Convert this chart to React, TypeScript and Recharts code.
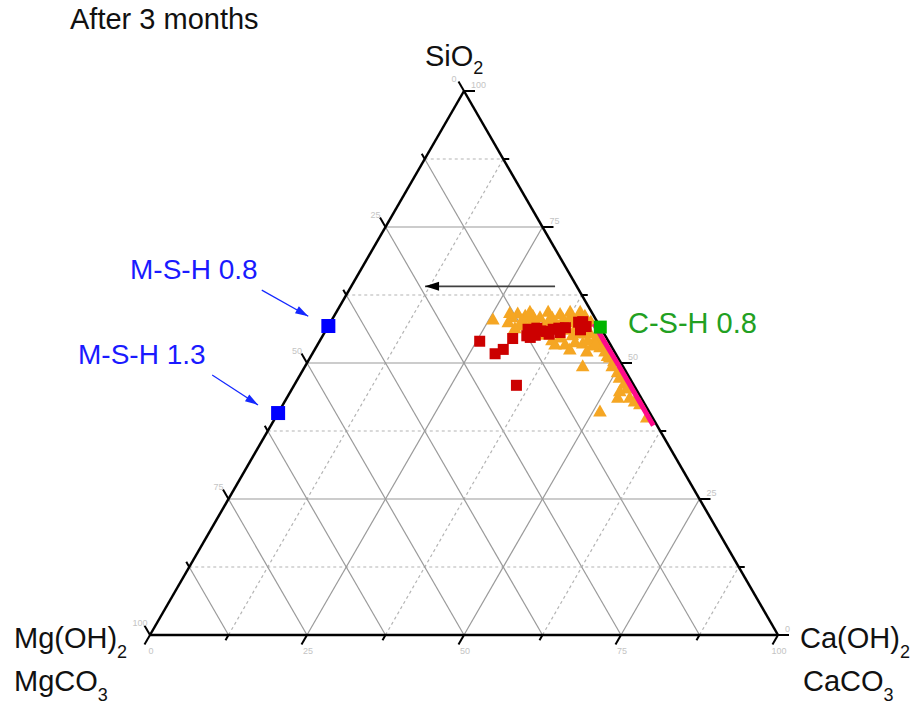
import React from 'react';
import { ReferenceLine, Scatter, ScatterChart, XAxis, YAxis } from 'recharts';

// compositions in %: [SiO2, Ca(OH)2 / CaCO3, Mg(OH)2 / MgCO3]
const mshComp = [
  [56.8, 0, 43.2],
  [40.8, 0, 59.2],
];
const cshComp = [[56.6, 43.4, 0]];
const redComp = [
  [54.0, 25.5, 20.5], [51.7, 29.1, 19.2], [52.5, 30.0, 17.5], [54.5, 30.5, 15.0],
  [45.9, 35.4, 18.7], [56.2, 32.1, 11.7], [54.7, 33.2, 12.1], [56.4, 33.4, 10.2],
  [55.8, 35.2, 9.0], [56.2, 36.1, 7.7], [56.4, 36.9, 6.7], [56.5, 37.9, 5.6],
  [57.5, 39.5, 3.0], [57.6, 40.1, 2.3], [56.7, 41.1, 2.2], [55.1, 33.8, 11.1],
  [55.6, 37.5, 6.9], [55.0, 32.5, 12.5], [55.9, 34.3, 9.8], [55.3, 35.9, 8.8],
  [56.1, 40.5, 3.4],
];
const orangeComp = [
  [58.0, 25.6, 16.4], [58.4, 28.4, 13.2], [59.1, 29.0, 11.9], [58.7, 30.4, 10.9],
  [58.7, 31.6, 9.7], [58.4, 32.9, 8.7], [57.6, 34.6, 7.8], [57.6, 35.7, 6.7],
  [58.0, 36.8, 5.2], [58.4, 37.7, 3.9], [58.4, 39.0, 2.6], [58.7, 39.9, 1.4],
  [57.6, 41.4, 1.0], [56.9, 30.5, 12.6], [55.2, 35.3, 9.5], [54.7, 38.0, 7.3],
  [55.1, 39.7, 5.2], [55.4, 40.8, 3.8], [55.4, 42.4, 2.2], [54.7, 43.7, 1.6],
  [54.0, 44.7, 1.3], [53.4, 37.8, 8.8], [53.4, 39.4, 7.2], [53.8, 40.8, 5.4],
  [53.6, 42.1, 4.3], [53.2, 43.8, 3.0], [52.9, 45.2, 1.9], [52.1, 46.4, 1.5],
  [51.0, 47.7, 1.3], [50.3, 48.7, 1.0], [49.4, 44.2, 6.4], [49.4, 48.9, 1.7],
  [48.3, 50.3, 1.4], [47.3, 51.1, 1.6], [46.2, 52.4, 1.4], [45.3, 53.3, 1.4],
  [43.6, 52.7, 3.7], [42.9, 55.7, 1.4], [43.6, 54.6, 1.8], [41.1, 51.1, 7.8],
  [40.0, 59.1, 0.9], [57.1, 32.0, 10.9], [56.5, 39.5, 4.0], [52.1, 43.5, 4.4],
  [52.5, 40.6, 6.9], [44.8, 52.4, 2.8], [42.4, 56.8, 0.8],
  [57.5, 28.3, 14.2], [56.4, 29.9, 13.7], [57.9, 30.3, 11.8], [58.3, 31.0, 10.7],
  [57.5, 32.7, 9.8], [56.8, 34.3, 8.9], [58.3, 34.9, 6.8], [56.8, 36.6, 6.6],
  [56.1, 38.2, 5.7], [57.5, 38.8, 3.7], [56.1, 40.8, 3.1], [54.2, 42.6, 3.2],
  [53.5, 44.2, 2.3], [54.2, 36.9, 8.9], [53.3, 45.8, 0.9], [51.3, 47.2, 1.5],
  [59.4, 33.7, 6.9], [59.0, 35.8, 5.2], [59.4, 38.8, 1.8], [59.2, 27.7, 13.1],
  [59.4, 30.8, 9.8], [59.4, 37.2, 3.4],
];
const pinkComp = [
  [57.2, 42.1, 0.7], [54.0, 45.3, 0.7], [50.0, 49.4, 0.6],
  [46.0, 53.4, 0.6], [42.0, 57.4, 0.6], [38.5, 60.9, 0.6],
];

// annotation arrows, in plot units (x = Ca + SiO2/2, y = SiO2)
const arrows = [
  { from: { x: 64.5, y: 64.1 }, to: { x: 43.8, y: 64.1 }, color: '#000000', shaft: '#404040' },
  { from: { x: 17.8, y: 63.4 }, to: { x: 25.2, y: 58.6 }, color: '#1428ff', shaft: '#1428ff' },
  { from: { x: 9.9, y: 47.8 }, to: { x: 17.2, y: 42.3 }, color: '#1428ff', shaft: '#1428ff' },
];

const gridValues = [12.5, 25, 37.5, 50, 62.5, 75, 87.5];
const majorValues = [25, 50, 75];
const tickValues = [0, 12.5, 25, 37.5, 50, 62.5, 75, 87.5, 100];
const labelValues = [0, 25, 50, 75, 100];

const W = 917;
const H = 706;
const LEFT = 150;
const RIGHT = 778;
const BASE = 635;
const APEX = 91;
const PX_X = (RIGHT - LEFT) / 100;
const PX_Y = (BASE - APEX) / 100;
const xDomain = [-LEFT / PX_X, (W - LEFT) / PX_X];
const yDomain = [-(H - BASE) / PX_Y, BASE / PX_Y];

const FONT = '"Liberation Sans", Arial, sans-serif';

const toXY = (si: number, ca: number) => ({ x: ca + si / 2, y: si });
const fromComp = (rows: number[][]) => rows.map(([si, ca]) => toXY(si, ca));

// pixel offset -> plot units
const off = (p: { x: number; y: number }, dx: number, dy: number) => ({
  x: p.x + dx / PX_X,
  y: p.y - dy / PX_Y,
});

type Seg = { a: { x: number; y: number }; b: { x: number; y: number }; stroke: string; w: number; dash?: string };

function buildGrid(): Seg[] {
  const segs: Seg[] = [];
  gridValues.forEach((v) => {
    const major = majorValues.includes(v);
    const solid = { stroke: '#9a9a9a', w: 1.2 };
    const dashed = { stroke: '#b4b4b4', w: 1.2, dash: '3 3' };
    // constant SiO2
    segs.push({ a: toXY(v, 0), b: toXY(v, 100 - v), ...(major ? solid : dashed) });
    // constant Ca
    segs.push({ a: toXY(0, v), b: toXY(100 - v, v), ...(major ? solid : dashed) });
    // constant Mg
    segs.push({ a: toXY(0, 100 - v), b: toXY(100 - v, 0), ...solid });
  });
  return segs;
}

function buildTicks(): Seg[] {
  const segs: Seg[] = [];
  tickValues.forEach((v) => {
    const L = labelValues.includes(v) ? 11 : 6;
    const left = toXY(100 - v, 0);
    segs.push({ a: left, b: off(left, -0.5 * L, -0.866 * L), stroke: '#000', w: 2 });
    const right = toXY(v, 100 - v);
    segs.push({ a: right, b: off(right, L, 0), stroke: '#000', w: 2 });
    const bottom = toXY(0, v);
    segs.push({ a: bottom, b: off(bottom, -0.5 * L, 0.866 * L), stroke: '#000', w: 2 });
  });
  return segs;
}

const edges: Seg[] = [
  { a: toXY(0, 0), b: toXY(100, 0), stroke: '#000', w: 2.5 },
  { a: toXY(100, 0), b: toXY(0, 100), stroke: '#000', w: 2.5 },
  { a: toXY(0, 100), b: toXY(0, 0), stroke: '#000', w: 2.5 },
];

const tickLabels = labelValues.flatMap((v) => [
  { ...toXY(100 - v, 0), text: String(v), dx: -10, dy: -12, anchor: 'middle' },
  { ...toXY(v, 100 - v), text: String(v), dx: 7, dy: -6, anchor: 'start' },
  { ...toXY(0, v), text: String(v), dx: 1, dy: 16, anchor: 'middle' },
]);

const TickText = (props: any) => {
  const { cx, cy, payload } = props;
  return (
    <text
      x={cx + payload.dx}
      y={cy + payload.dy}
      textAnchor={payload.anchor}
      dominantBaseline="central"
      fontSize={9}
      fontFamily={FONT}
      fill="#c4c4c4"
    >
      {payload.text}
    </text>
  );
};

const Square = (size: number, fill: string) => (props: any) => {
  const { cx, cy } = props;
  return <rect x={cx - size / 2} y={cy - size / 2} width={size} height={size} fill={fill} />;
};

const Triangle = (props: any) => {
  const { cx, cy } = props;
  return (
    <polygon
      points={`${cx},${cy - 7} ${cx - 6.8},${cy + 5} ${cx + 6.8},${cy + 5}`}
      fill="#f5a623"
    />
  );
};

const ArrowHead = (props: any) => {
  const { cx, cy, payload } = props;
  const len = payload.len;
  const half = payload.half;
  const deg = (payload.angle * 180) / Math.PI;
  return (
    <polygon
      points={`0,0 ${-len},${-half} ${-len},${half}`}
      fill={payload.color}
      transform={`translate(${cx},${cy}) rotate(${deg})`}
    />
  );
};

const arrowHeads = arrows.map((a, i) => ({
  ...a.to,
  color: a.color,
  len: i === 0 ? 14 : 13,
  half: i === 0 ? 4.5 : 4,
  angle: Math.atan2(-(a.to.y - a.from.y) * PX_Y, (a.to.x - a.from.x) * PX_X),
}));

const Empty = () => <g />;

export default function App() {
  const grid = buildGrid();
  const ticks = buildTicks();
  const renderSeg = (s: Seg, key: string) => (
    <ReferenceLine
      key={key}
      segment={[s.a, s.b]}
      stroke={s.stroke}
      strokeWidth={s.w}
      strokeDasharray={s.dash}
      ifOverflow="visible"
    />
  );

  return (
    <div style={{ position: 'absolute', left: 0, top: 0, width: W, height: H, background: '#fff' }}>
      <ScatterChart width={W} height={H} margin={{ top: 0, right: 0, bottom: 0, left: 0 }}>
        <XAxis type="number" dataKey="x" domain={xDomain} hide allowDataOverflow />
        <YAxis type="number" dataKey="y" domain={yDomain} hide allowDataOverflow />
        {grid.map((s, i) => renderSeg(s, `g${i}`))}
        {ticks.map((s, i) => renderSeg(s, `t${i}`))}
        {edges.map((s, i) => renderSeg(s, `e${i}`))}
        {arrows.map((a, i) =>
          renderSeg({ a: a.from, b: a.to, stroke: a.shaft, w: i === 0 ? 1.8 : 1.2 }, `a${i}`),
        )}
        <Scatter data={tickLabels} shape={TickText} isAnimationActive={false} />
        <Scatter data={fromComp(orangeComp)} shape={Triangle} isAnimationActive={false} />
        <Scatter
          data={fromComp(pinkComp)}
          line={{ stroke: '#ff0a8c', strokeWidth: 5 }}
          shape={Empty}
          isAnimationActive={false}
        />
        <Scatter data={fromComp(redComp)} shape={Square(11, '#cc0000')} isAnimationActive={false} />
        <Scatter data={fromComp(mshComp)} shape={Square(14, '#0000ff')} isAnimationActive={false} />
        <Scatter data={fromComp(cshComp)} shape={Square(13, '#00b400')} isAnimationActive={false} />
        <Scatter data={arrowHeads} shape={ArrowHead} isAnimationActive={false} />
      </ScatterChart>
      <svg
        width={W}
        height={H}
        style={{ position: 'absolute', left: 0, top: 0, pointerEvents: 'none' }}
        fontFamily={FONT}
      >
        <text x={70} y={29} fontSize={29} fill="#111">After 3 months</text>
        <text x={425} y={66} fontSize={29} fill="#111">
          SiO<tspan fontSize={18} dy={8}>2</tspan>
        </text>
        <text x={14} y={648} fontSize={29} fill="#111">
          Mg(OH)<tspan fontSize={18} dy={10}>2</tspan>
        </text>
        <text x={14} y={691} fontSize={29} fill="#111">
          MgCO<tspan fontSize={18} dy={10}>3</tspan>
        </text>
        <text x={800} y={648} fontSize={29} fill="#111">
          Ca(OH)<tspan fontSize={18} dy={10}>2</tspan>
        </text>
        <text x={803} y={691} fontSize={29} fill="#111">
          CaCO<tspan fontSize={18} dy={10}>3</tspan>
        </text>
        <text x={130} y={279} fontSize={28} fill="#1a1aff">M-S-H 0.8</text>
        <text x={78} y={364} fontSize={28} fill="#1a1aff">M-S-H 1.3</text>
        <text x={628} y={333} fontSize={29} fill="#22a022">C-S-H 0.8</text>
      </svg>
    </div>
  );
}
